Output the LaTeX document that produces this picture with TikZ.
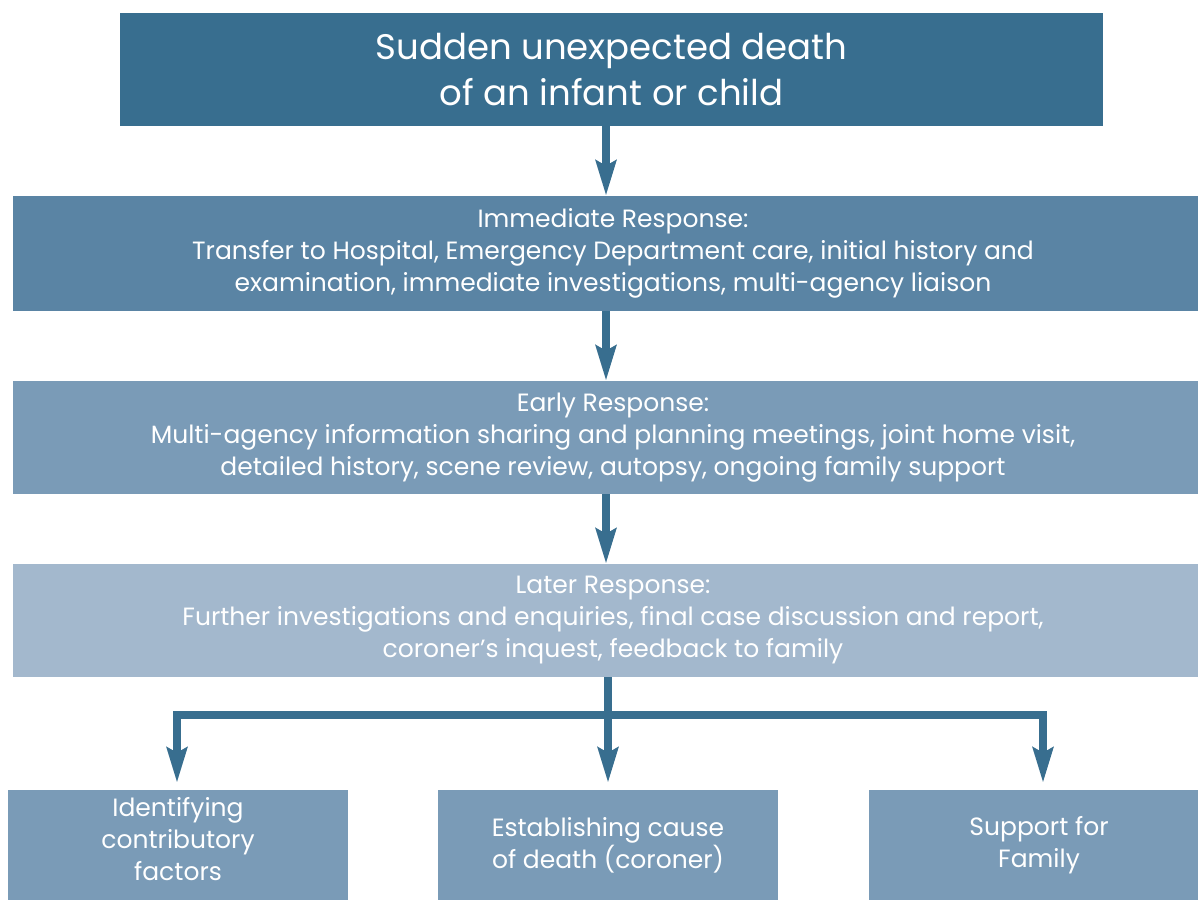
\documentclass[tikz,border=0pt]{standalone}
\usepackage{fontspec}
\setmainfont{Poppins}
\usetikzlibrary{arrows.meta}
\definecolor{deepblue}{HTML}{386E8F}
\definecolor{midblue}{HTML}{5A84A4}
\definecolor{softblue}{HTML}{7A9BB7}
\definecolor{paleblue}{HTML}{A3B8CD}
\begin{document}
\begin{tikzpicture}[x=1pt,y=-1pt,
  bodytext/.style={text=white, align=center, inner sep=0pt,
    font=\fontsize{25}{32}\selectfont},
  stage/.style={fill=#1, draw=none, bodytext},
  flow/.style={draw=deepblue, line width=8pt,
    -{Stealth[length=35pt,width=20pt,inset=5pt]}}]
\useasboundingbox (0,0) rectangle (1198,900);
\clip (0,0) rectangle (1198,900);

% stages of the response
\node[stage=deepblue, minimum width=983pt, minimum height=113pt,
  font=\fontsize{35.5}{46}\selectfont] (top) at (611.5,69.5)
  {Sudden unexpected death\\of an infant or child};
\node[stage=midblue, minimum width=1200pt, minimum height=115pt] (imm) at (613,253.5)
  {Immediate Response:\\Transfer to Hospital, Emergency Department care, initial history and\\examination, immediate investigations, multi-agency liaison};
\node[stage=softblue, minimum width=1200pt, minimum height=113pt] (early) at (613,437.5)
  {Early Response:\\Multi-agency information sharing and planning meetings, joint home visit,\\detailed history, scene review, autopsy, ongoing family support};
\node[stage=paleblue, minimum width=1200pt, minimum height=113pt] (late) at (613,620.5)
  {Later Response:\\Further investigations and enquiries, final case discussion and report,\\coroner’s inquest, feedback to family};

% outcomes
\node[stage=softblue, minimum width=340pt, minimum height=110pt,
  label={[bodytext, yshift=6pt]center:Identifying\\contributory\\factors}] (factors) at (178,845) {};
\node[stage=softblue, minimum width=340pt, minimum height=110pt] (cause) at (608,845)
  {Establishing cause\\of death (coroner)};
\node[stage=softblue, minimum width=340pt, minimum height=110pt] (family) at (1039,845)
  {Support for\\Family};

% connectors
\coordinate (spine) at (606,0);
\draw[flow] (top.south -| spine) -- (imm.north -| spine);
\draw[flow] (imm.south -| spine) -- (early.north -| spine);
\draw[flow] (early.south -| spine) -- (late.north -| spine);
\coordinate (fork) at (608,715);
\coordinate (leftdrop) at (177,0);
\coordinate (rightdrop) at (1043,0);
\draw[flow, shorten >=7pt] (late.south -| fork) -- (cause.north -| fork);
\draw[flow, shorten >=7pt] (fork) -| (factors.north -| leftdrop);
\draw[flow, shorten >=7pt] (fork) -| (family.north -| rightdrop);
\end{tikzpicture}
\end{document}
